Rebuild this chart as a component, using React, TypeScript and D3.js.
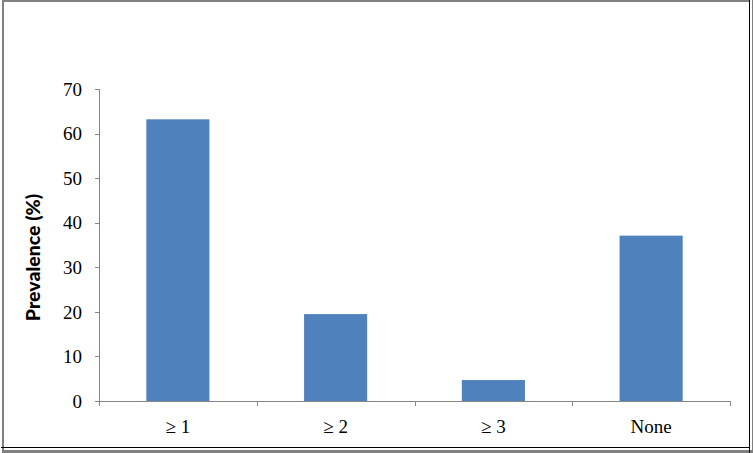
import React from "react";
import * as d3 from "d3";

const categories: string[] = ["≥ 1", "≥ 2", "≥ 3", "None"];
const prevalence: number[] = [63.2, 19.5, 4.7, 37.1];
const yTicks: number[] = [0, 10, 20, 30, 40, 50, 60, 70];
const yLabel = "Prevalence (%)";

const W = 753;
const H = 453;
const plot = { left: 99, right: 730, top: 89, bottom: 401 };
const axisColor = "#868686";
const barColor = "#4F81BD";
const serif = "'Liberation Serif', 'Times New Roman', serif";

export default function App() {
  const x = d3
    .scaleBand<string>()
    .domain(categories)
    .range([plot.left, plot.right])
    .padding(0);
  const y = d3.scaleLinear().domain([0, 70]).range([plot.bottom, plot.top]);
  const barW = x.bandwidth() * 0.4;
  const boundaries = [...categories.map((c) => x(c) as number), plot.right];

  return (
    <svg
      width={W}
      height={H}
      style={{ position: "absolute", left: 0, top: 0, background: "#fff" }}
    >
      <rect x={0} y={0} width={W} height={H} fill="#fff" />
      {/* frame */}
      <rect x={2} y={0} width={747} height={2} fill="#808080" />
      <rect x={2} y={0} width={2} height={H} fill="#808080" />
      <rect x={752} y={0} width={1} height={H} fill="#808080" />
      <rect x={2} y={450} width={750} height={3} fill="#808080" />
      <rect x={749} y={0} width={1} height={H} fill="#000" />
      <rect x={1} y={447} width={749} height={1} fill="#000" />

      {/* bars */}
      {categories.map((c, i) => {
        const cx = (x(c) as number) + x.bandwidth() / 2;
        return (
          <rect
            key={c}
            x={cx - barW / 2}
            y={y(prevalence[i])}
            width={barW}
            height={y(0) - y(prevalence[i])}
            fill={barColor}
          />
        );
      })}

      {/* y axis */}
      <line
        x1={plot.left + 0.5}
        x2={plot.left + 0.5}
        y1={plot.top}
        y2={plot.bottom}
        stroke={axisColor}
        strokeWidth={1}
      />
      {yTicks.map((t) => (
        <g key={t}>
          <line
            x1={plot.left - 4}
            x2={plot.left + 0.5}
            y1={Math.round(y(t)) + 0.5}
            y2={Math.round(y(t)) + 0.5}
            stroke={axisColor}
          />
          <text
            x={82}
            y={y(t)}
            dy="0.35em"
            textAnchor="end"
            fontFamily={serif}
            fontSize={19}
            fill="#000"
          >
            {t}
          </text>
        </g>
      ))}

      {/* x axis */}
      <line
        x1={plot.left}
        x2={plot.right + 0.5}
        y1={plot.bottom + 0.5}
        y2={plot.bottom + 0.5}
        stroke={axisColor}
      />
      {boundaries.map((b, i) => (
        <line
          key={i}
          x1={Math.round(b) + 0.5}
          x2={Math.round(b) + 0.5}
          y1={plot.bottom}
          y2={plot.bottom + 5}
          stroke={axisColor}
        />
      ))}
      {categories.map((c) => (
        <text
          key={c}
          x={(x(c) as number) + x.bandwidth() / 2}
          y={433}
          textAnchor="middle"
          fontFamily={serif}
          fontSize={19}
          fill="#000"
        >
          {c}
        </text>
      ))}

      {/* y label */}
      <text
        transform={`translate(40, 257.5) rotate(-90)`}
        textAnchor="middle"
        fontFamily="Lato, 'Open Sans', sans-serif"
        fontWeight="900"
        fontSize={19.5}
        fill="#000"
      >
        {yLabel}
      </text>
    </svg>
  );
}
